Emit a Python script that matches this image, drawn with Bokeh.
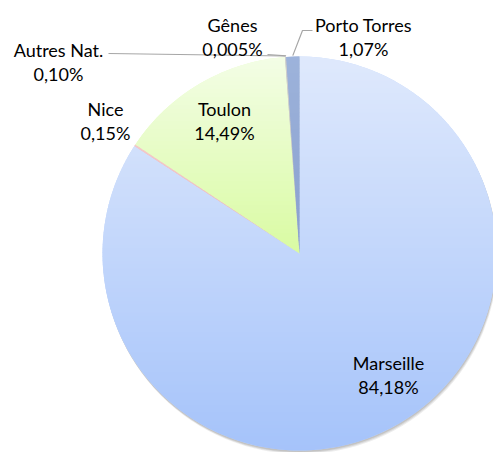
import numpy as np
from bokeh.plotting import figure
from bokeh.models import Range1d
from bokeh.embed import file_html
from bokeh.resources import INLINE
from bokeh.core.properties import value

# ---- data ----
ports = ["Marseille", "Nice", "Toulon", "Autres Nat.", "Gênes", "Porto Torres"]
shares = [84.18, 0.15, 14.49, 0.10, 0.005, 1.07]
share_labels = ["84,18%", "0,15%", "14,49%", "0,10%", "0,005%", "1,07%"]

# ---- styles ----
top_colors = ["#dfe9fc", "#f4c8c8", "#f3fde6", "#cfcfcf", "#bdbdbd", "#9db3db"]
bot_colors = ["#a5c3fa", "#efbcbc", "#d9fba2", "#c2c2c2", "#adadad", "#899fce"]
font = value("Lato")
fsize = "18px"
W, H = 493, 452
cx, cy, r = 299, 199, 197

# label name-line positions (pixel frame)
label_pos = {
    "Marseille": (388, 90),
    "Nice": (105, 344),
    "Toulon": (224, 344),
    "Autres Nat.": (58, 403),
    "Gênes": (232, 428),
    "Porto Torres": (363, 428),
}
line_gap = 24

frac = np.array(shares) / 100.0
cum_end = np.cumsum(frac)
cum_start = cum_end - frac
start = np.pi / 2 - 2 * np.pi * cum_start
end = np.pi / 2 - 2 * np.pi * cum_end
mid = (start + end) / 2


def hexrgb(h):
    h = h.lstrip("#")
    return np.array([int(h[i:i + 2], 16) for i in (0, 2, 4)], dtype=float)


def mix(c0, c1, t):
    c = hexrgb(c0) * (1 - t) + hexrgb(c1) * t
    return "#%02x%02x%02x" % tuple(int(round(v)) for v in c)


def clip(poly, yv, keep_above):
    out = []
    n = len(poly)
    for k in range(n):
        a = poly[k]
        b = poly[(k + 1) % n]
        ina = a[1] >= yv if keep_above else a[1] <= yv
        inb = b[1] >= yv if keep_above else b[1] <= yv
        if ina:
            out.append(a)
        if ina != inb:
            t = (yv - a[1]) / (b[1] - a[1])
            out.append((a[0] + t * (b[0] - a[0]), yv))
    return out


p = figure(width=W, height=H, output_backend="svg", toolbar_location=None,
           x_range=Range1d(0, W), y_range=Range1d(0, H), min_border=0,
           outline_line_color=None)
p.axis.visible = False
p.grid.visible = False
p.background_fill_color = "white"

# soft shadow
for dx, dy, a in [(1.5, -3.5, 0.16), (1, -2.5, 0.22), (0.5, -1.5, 0.28)]:
    p.wedge(x=cx + dx, y=cy + dy, radius=r, start_angle=0, end_angle=2 * np.pi,
            fill_color="#8c8c8c", fill_alpha=a, line_color=None)

# base slices
mid_colors = [mix(a, b, 0.5) for a, b in zip(top_colors, bot_colors)]
p.wedge(x=cx, y=cy, radius=r, start_angle=list(start), end_angle=list(end),
        direction="clock", fill_color=mid_colors, line_color=None)

# vertical gradient shading of each slice (bands clipped to the slice shape)
bx, by, bc = [], [], []
step = 4.0
for i in range(len(ports)):
    n = max(3, int(abs(end[i] - start[i]) / (2 * np.pi) * 360))
    ang = np.linspace(start[i], end[i], n + 1)
    poly = [(cx, cy)] + [(cx + r * np.cos(t), cy + r * np.sin(t)) for t in ang]
    ys_ = [q[1] for q in poly]
    ytop, ybot = max(ys_), min(ys_)
    if ytop - ybot < 1:
        continue
    y1 = ytop
    while y1 > ybot:
        y0 = max(ybot, y1 - step)
        piece = clip(clip(poly, y0 - 0.6, True), y1, False)
        if len(piece) >= 3:
            t = ((ytop - (y0 + y1) / 2) / (ytop - ybot))
            bx.append([q[0] for q in piece])
            by.append([q[1] for q in piece])
            bc.append(mix(top_colors[i], bot_colors[i], min(max(t, 0), 1)))
        y1 = y0
p.patches(xs=bx, ys=by, fill_color=bc, line_color=None)

# leader lines for the outside labels
lead = {"Autres Nat.": [(108, 399)], "Gênes": [(267, 398)],
        "Porto Torres": [(312, 422), (302, 422)]}
for name, pts in lead.items():
    i = ports.index(name)
    ex = cx + (r + 1) * np.cos(mid[i])
    ey = cy + (r + 1) * np.sin(mid[i])
    xs = [q[0] for q in pts] + [ex]
    ys = [q[1] for q in pts] + [ey]
    p.line(xs, ys, line_color="#a6a6a6", line_width=1.2)

names_x = [label_pos[n][0] for n in ports]
names_y = [label_pos[n][1] for n in ports]
p.text(x=names_x, y=names_y, text=ports, text_align="center", text_baseline="middle",
       text_font=font, text_font_size=fsize, text_color="#000000")
p.text(x=names_x, y=[y - line_gap for y in names_y], text=share_labels,
       text_align="center", text_baseline="middle",
       text_font=font, text_font_size=fsize, text_color="#000000")

open("out.html", "w").write(file_html(p, INLINE))
